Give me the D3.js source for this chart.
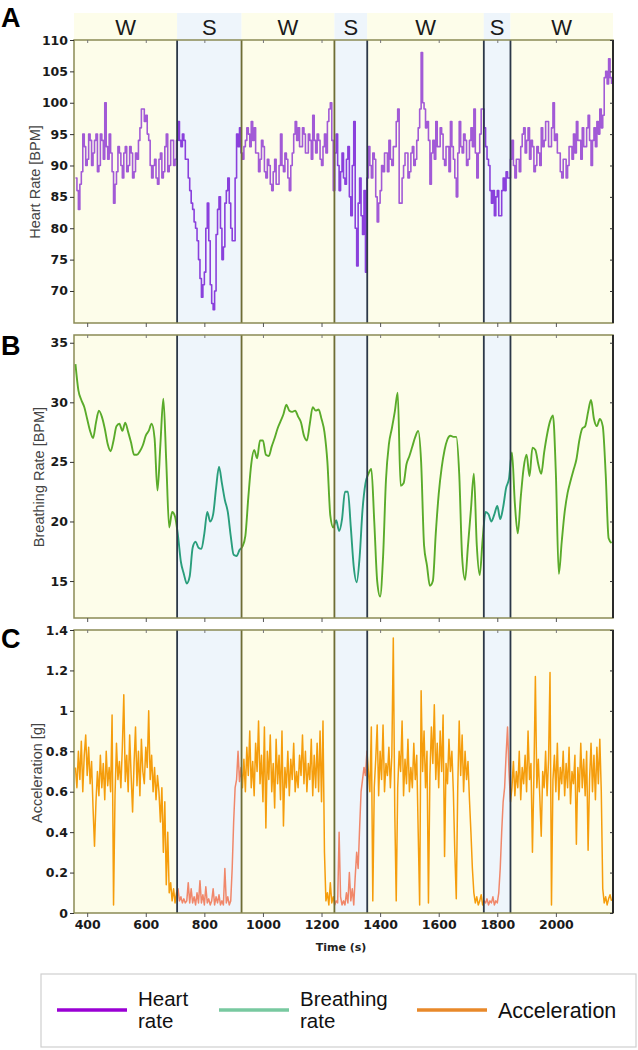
<!DOCTYPE html>
<html><head><meta charset="utf-8">
<script src="https://cdn.jsdelivr.net/npm/d3@7"></script>
<style>body{margin:0;background:#fff}</style>
</head><body>
<svg id="chart" width="638" height="1050"></svg>
<script>
// ---------- data ----------
const xTicks = [400, 600, 800, 1000, 1200, 1400, 1600, 1800, 2000];
const stageLabels = ["W", "S", "W", "S", "W", "S", "W"];
const stageBounds = [355, 707, 927, 1244, 1356, 1754, 1845, 2195];

const hrTicks = [70, 75, 80, 85, 90, 95, 100, 105, 110];
const brTicks = [15, 20, 25, 30, 35];
const accTicks = [0, 0.2, 0.4, 0.6, 0.8, 1, 1.2, 1.4];

const hrStart = 360, hrStep = 5;
const heartRate = [
  88, 86, 83, 87, 89, 95, 93, 90, 91, 95, 94, 90, 92, 94, 95, 89, 90, 95, 94, 91,
  100, 93, 91, 95, 92, 89, 84, 87, 89, 93, 92, 90, 88, 92, 93, 89, 90, 93, 92, 88,
  89, 92, 91, 94, 96, 99, 99, 97, 98, 95, 94, 90, 88, 90, 91, 88, 87, 91, 92, 88,
  89, 93, 95, 89, 90, 94, 94, 90, 91, 94, 97, 94, 93, 95, 94, 91, 91, 88, 86, 84,
  83, 81, 80, 78, 75, 72, 69, 71, 73, 80, 84, 78, 71, 68, 67, 70, 79, 83, 85, 80,
  75, 77, 84, 86, 88, 84, 80, 78, 78, 88, 95, 93, 96, 92, 91, 93, 94, 96, 95, 93,
  97, 94, 96, 92, 92, 89, 91, 94, 93, 89, 88, 91, 90, 87, 86, 89, 91, 87, 87, 90,
  95, 90, 89, 92, 91, 88, 86, 90, 92, 95, 97, 94, 96, 93, 93, 96, 95, 92, 92, 95,
  94, 91, 98, 94, 92, 95, 94, 91, 90, 93, 95, 92, 97, 99, 100, 94, 86, 92, 95, 90,
  86, 89, 92, 88, 87, 91, 93, 85, 82, 90, 97, 80, 74, 84, 88, 82, 79, 86, 73, 88,
  93, 90, 88, 92, 91, 85, 81, 84, 86, 90, 89, 92, 92, 89, 94, 91, 90, 93, 93, 97,
  99, 84, 84, 88, 90, 92, 92, 88, 89, 92, 93, 90, 91, 94, 96, 99, 108, 100, 99, 96,
  97, 94, 87, 92, 94, 91, 97, 93, 93, 96, 95, 91, 90, 93, 93, 89, 97, 93, 91, 88,
  85, 92, 97, 93, 92, 95, 94, 90, 91, 94, 96, 93, 99, 92, 88, 92, 95, 99, 99, 96,
  93, 91, 90, 86, 84, 86, 82, 85, 86, 82, 82, 86, 88, 86, 89, 88, 88, 91, 94, 90,
  88, 91, 91, 89, 93, 95, 96, 92, 94, 96, 91, 94, 93, 89, 90, 93, 92, 90, 96, 93,
  94, 97, 97, 93, 93, 96, 100, 94, 95, 92, 92, 89, 88, 91, 91, 88, 90, 93, 93, 91,
  95, 92, 97, 94, 94, 91, 96, 93, 93, 96, 98, 94, 90, 94, 96, 93, 97, 95, 99, 96,
  98, 104, 105, 103, 107, 104, 103
];

const brStart = 360, brStep = 10;
const breathingRate = [
  33.2, 31.0, 30.2, 29.6, 28.6, 27.6, 27.0, 28.3, 29.3, 28.8,
  27.8, 26.5, 25.9, 26.8, 28.0, 28.2, 27.6, 28.3, 27.5, 26.6,
  25.6, 25.6, 25.9, 26.4, 27.2, 27.6, 28.2, 27.0, 22.6, 26.5,
  30.3, 25.0, 19.5, 20.8, 20.4, 18.8, 16.6, 15.6, 14.8, 15.4,
  17.8, 18.3, 17.8, 17.7, 19.0, 20.8, 20.0, 20.6, 22.8, 24.6,
  23.2, 21.8, 20.8, 18.8, 17.2, 17.1, 17.6, 17.9, 18.8, 22.0,
  24.8, 26.0, 25.3, 26.8, 26.8, 25.6, 25.5, 26.3, 27.0, 27.8,
  28.4, 29.0, 29.8, 29.3, 29.2, 29.3, 28.8, 28.3, 27.2, 26.8,
  28.2, 29.6, 29.3, 29.4, 28.6, 27.5, 25.0, 20.5, 19.5, 20.1,
  19.2, 20.2, 22.5, 22.5, 19.5, 16.2, 14.9, 17.0, 21.0, 23.2,
  24.0, 24.4, 20.0, 15.0, 13.7, 17.0, 23.5, 26.5, 27.8, 29.2,
  30.8, 23.0, 23.2, 24.8, 25.5, 26.3, 27.1, 27.6, 25.0, 18.0,
  16.3, 14.6, 15.0, 19.0, 22.3, 24.5, 26.0, 26.9, 27.2, 27.1,
  27.1, 24.0, 17.0, 15.1, 18.0, 21.0, 24.0, 18.0, 15.5, 18.5,
  20.8, 20.6, 20.0, 20.6, 21.3, 20.2, 21.2, 22.8, 23.6, 25.8,
  21.5, 19.0, 22.0, 24.5, 25.6, 23.8, 26.2, 26.0, 24.8, 24.0,
  25.8, 27.3, 28.4, 28.9, 24.0, 15.6, 18.3, 20.8, 22.4, 23.4,
  24.3, 25.2, 26.8, 27.8, 28.0, 29.2, 30.2, 28.6, 28.0, 28.6,
  28.0, 24.0, 18.6, 18.2
];

const accStart = 360, accStep = 5;
const acceleration = [
  0.72, 0.62, 0.80, 0.66, 0.85, 0.60, 0.78, 0.88, 0.68, 0.82, 0.64, 0.75, 0.52, 0.33, 0.55, 0.70, 0.58, 0.78, 0.62, 0.74,
  0.56, 0.80, 0.63, 0.72, 0.60, 0.98, 0.04, 0.58, 0.84, 0.66, 0.75, 0.62, 0.82, 1.08, 0.65, 0.78, 0.60, 0.88, 0.68, 0.50,
  0.74, 0.92, 0.63, 0.80, 0.58, 0.86, 0.70, 0.64, 0.82, 0.72, 1.00, 0.66, 0.78, 0.60, 0.72, 0.56, 0.68, 0.60, 0.45, 0.62,
  0.30, 0.55, 0.14, 0.40, 0.10, 0.15, 0.06, 0.12, 0.05, 0.10, 0.12, 0.06, 0.08, 0.05, 0.07, 0.05, 0.06, 0.15, 0.05, 0.12,
  0.05, 0.08, 0.04, 0.10, 0.05, 0.16, 0.05, 0.09, 0.04, 0.13, 0.05, 0.07, 0.04, 0.06, 0.12, 0.04, 0.08, 0.05, 0.09, 0.04,
  0.06, 0.04, 0.22, 0.05, 0.08, 0.04, 0.06, 0.22, 0.45, 0.62, 0.66, 0.80, 0.65, 0.72, 0.62, 0.76, 0.60, 0.82, 0.68, 0.90,
  0.62, 0.75, 0.58, 0.84, 0.70, 0.95, 0.64, 0.78, 0.55, 0.92, 0.42, 0.80, 0.66, 0.88, 0.60, 0.74, 0.52, 0.86, 0.64, 0.78,
  0.56, 0.90, 0.43, 0.72, 0.62, 0.80, 0.58, 0.76, 0.66, 0.84, 0.60, 0.70, 0.62, 0.78, 0.68, 0.88, 0.64, 0.80, 0.60, 0.74,
  0.66, 0.86, 0.58, 0.78, 0.62, 0.84, 0.60, 0.90, 0.55, 0.95, 0.30, 0.06, 0.10, 0.04, 0.15, 0.05, 0.08, 0.04, 0.06, 0.05,
  0.40, 0.08, 0.04, 0.06, 0.04, 0.10, 0.05, 0.20, 0.06, 0.12, 0.04, 0.18, 0.30, 0.22, 0.42, 0.60, 0.66, 0.72, 0.68, 0.80,
  0.70, 0.60, 0.92, 0.06, 0.62, 0.76, 0.93, 0.58, 0.80, 0.66, 0.93, 0.60, 0.74, 0.68, 0.82, 0.62, 0.78, 1.36, 0.50, 0.06,
  0.62, 0.80, 0.70, 0.95, 0.58, 0.76, 0.64, 0.86, 0.60, 0.72, 0.62, 0.84, 0.66, 0.78, 0.40, 0.04, 1.10, 0.70, 0.90, 0.62,
  0.80, 0.05, 0.68, 0.92, 0.74, 1.03, 0.66, 0.84, 0.62, 0.90, 0.70, 0.98, 0.28, 0.74, 0.64, 0.86, 0.70, 0.80, 0.60, 0.30,
  0.07, 0.62, 0.95, 0.68, 0.88, 0.60, 0.80, 0.66, 0.75, 0.56, 0.40, 0.22, 0.10, 0.05, 0.08, 0.04, 0.06, 0.09, 0.04, 0.06,
  0.05, 0.07, 0.04, 0.06, 0.05, 0.08, 0.04, 0.06, 0.05, 0.10, 0.22, 0.40, 0.55, 0.62, 0.78, 0.92, 0.70, 0.55, 0.62, 0.75,
  0.58, 0.70, 0.62, 0.80, 0.56, 0.72, 0.64, 0.78, 0.60, 0.90, 0.66, 0.74, 0.30, 0.68, 1.17, 0.62, 0.76, 0.58, 0.38, 0.70,
  0.62, 0.80, 0.58, 0.76, 1.19, 0.04, 0.66, 0.78, 0.60, 0.84, 0.56, 0.72, 0.64, 0.80, 0.58, 0.74, 0.62, 0.82, 0.54, 0.70,
  0.64, 0.78, 0.34, 0.72, 0.60, 0.84, 0.62, 0.76, 0.58, 0.80, 0.31, 0.66, 0.84, 0.60, 0.78, 0.56, 0.82, 0.64, 0.86, 0.60,
  0.12, 0.05, 0.08, 0.04, 0.07, 0.09, 0.06
];

// ---------- drawing ----------
const svg = d3.select("#chart");
const W_BG = "#fdfdea", S_BG = "#eef5fb";
const OLIVE = "#8a8a55", DARK = "#2c3848";
const boundaryColors = [DARK, "#6e6d35", "#6e6d35", DARK, DARK, DARK];

const x = d3.scaleLinear().domain([stageBounds[0], stageBounds[stageBounds.length - 1]]).range([74, 613]);
const stages = stageLabels.map((s, i) => ({ label: s, t0: stageBounds[i], t1: stageBounds[i + 1] }));

// header band
const header = svg.append("g");
header.selectAll("rect").data(stages).join("rect")
  .attr("x", d => x(d.t0)).attr("width", d => x(d.t1) - x(d.t0))
  .attr("y", 13).attr("height", 27)
  .attr("fill", d => d.label === "W" ? W_BG : S_BG);
header.selectAll("text").data(stages).join("text")
  .attr("x", d => (x(d.t0) + x(d.t1)) / 2).attr("y", 35)
  .attr("text-anchor", "middle")
  .style("font-family", "Liberation Sans, Arial, sans-serif")
  .style("font-size", "22px").attr("fill", "#1a1a1a")
  .text(d => d.label);

const panels = [
  { letter: "A", letterY: 27, top: 40, bottom: 323, domain: [64.9, 110], ticks: hrTicks, fmt: d => d,
    values: heartRate, start: hrStart, step: hrStep, curve: d3.curveStepAfter, width: 1.6,
    colors: ["#a25ad6", "#8a40dc"], title: "Heart Rate [BPM]", titleX: 40, titleY: 182 },
  { letter: "B", letterY: 355, top: 335, bottom: 618, domain: [11.9, 35.65], ticks: brTicks, fmt: d => d,
    values: breathingRate, start: brStart, step: brStep, curve: d3.curveMonotoneX, width: 1.9,
    colors: ["#5aab2a", "#2a9e7c"], title: "Breathing Rate [BPM]", titleX: 44, titleY: 477 },
  { letter: "C", letterY: 648, top: 630, bottom: 913, domain: [0, 1.4], ticks: accTicks, fmt: d => String(d),
    values: acceleration, start: accStart, step: accStep, curve: d3.curveLinear, width: 1.5,
    colors: ["#f59d0c", "#f0876a"], title: "Acceleration [g]", titleX: 42, titleY: 773 }
];

panels.forEach((p, pi) => {
  const y = d3.scaleLinear().domain(p.domain).range([p.bottom, p.top]);
  const g = svg.append("g");
  g.selectAll("rect.bg").data(stages).join("rect").attr("class", "bg")
    .attr("x", d => x(d.t0)).attr("width", d => x(d.t1) - x(d.t0))
    .attr("y", p.top).attr("height", p.bottom - p.top)
    .attr("fill", d => d.label === "W" ? W_BG : S_BG);

  ["W", "S"].forEach(lbl => {
    const cp = svg.append("clipPath").attr("id", `clip${pi}${lbl}`);
    cp.selectAll("rect").data(stages.filter(s => s.label === lbl)).join("rect")
      .attr("x", d => x(d.t0)).attr("width", d => x(d.t1) - x(d.t0))
      .attr("y", p.top).attr("height", p.bottom - p.top);
  });

  const pts = p.values.map((v, i) => [p.start + i * p.step, v]);
  const line = d3.line().x(d => x(d[0])).y(d => y(d[1])).curve(p.curve);
  ["W", "S"].forEach((lbl, k) => {
    g.append("path").datum(pts)
      .attr("d", line).attr("fill", "none")
      .attr("stroke", p.colors[k]).attr("stroke-width", p.width)
      .attr("stroke-linejoin", "round")
      .attr("clip-path", `url(#clip${pi}${lbl})`);
  });

  g.selectAll("line.sb").data(stageBounds.slice(1, -1)).join("line").attr("class", "sb")
    .attr("x1", d => x(d)).attr("x2", d => x(d))
    .attr("y1", p.top).attr("y2", p.bottom)
    .attr("stroke", (d, i) => boundaryColors[i]).attr("stroke-width", 1.8);

  g.append("rect").attr("x", 74).attr("y", p.top).attr("width", 539).attr("height", p.bottom - p.top)
    .attr("fill", "none").attr("stroke", OLIVE).attr("stroke-width", 1.5);
  g.append("line").attr("x1", 613).attr("x2", 613).attr("y1", p.top).attr("y2", p.bottom)
    .attr("stroke", "#2a2a2a").attr("stroke-width", 2);

  const yAxis = d3.axisLeft(y).tickValues(p.ticks).tickFormat(p.fmt).tickSize(4).tickPadding(2);
  const ya = g.append("g").attr("transform", "translate(74,0)").call(yAxis);
  ya.select(".domain").remove();
  ya.selectAll("line").attr("stroke", "#333");
  ya.selectAll("text").style("font-family", "DejaVu Sans, Verdana, sans-serif")
    .style("font-weight", "bold").style("font-size", "12.5px").attr("fill", "#1a1a1a");

  const yr = g.append("g").attr("transform", "translate(613,0)")
    .call(d3.axisRight(y).tickValues(p.ticks).tickSize(-3).tickFormat(""));
  yr.select(".domain").remove();
  yr.selectAll("line").attr("stroke", "#333");

  const xAxis = d3.axisBottom(x).tickValues(xTicks).tickSize(4).tickPadding(3)
    .tickFormat(pi === 2 ? d3.format("d") : "");
  const xa = g.append("g").attr("transform", `translate(0,${p.bottom})`).call(xAxis);
  xa.select(".domain").remove();
  xa.selectAll("line").attr("stroke", "#555");
  xa.selectAll("text").style("font-family", "DejaVu Sans, Verdana, sans-serif")
    .style("font-weight", "bold").style("font-size", "12.5px").attr("fill", "#1a1a1a");

  const xt = g.append("g").attr("transform", `translate(0,${p.top})`)
    .call(d3.axisTop(x).tickValues(xTicks).tickSize(-3).tickFormat(""));
  xt.select(".domain").remove();
  xt.selectAll("line").attr("stroke", "#777");

  g.append("text").attr("transform", `translate(${p.titleX},${p.titleY}) rotate(-90)`)
    .attr("text-anchor", "middle")
    .style("font-family", "Liberation Sans, Arial, sans-serif").style("font-size", "14.5px")
    .attr("fill", "#444").text(p.title);

  svg.append("text").attr("x", 1).attr("y", p.letterY)
    .style("font-family", "Liberation Sans, Arial, sans-serif").style("font-weight", "bold")
    .style("font-size", "27px").attr("fill", "#000").text(p.letter);
});

svg.append("text").attr("x", 341).attr("y", 951).attr("text-anchor", "middle")
  .style("font-family", "DejaVu Sans, Verdana, sans-serif").style("font-weight", "bold")
  .style("font-size", "11px").attr("fill", "#222").text("Time (s)");

// legend
const legendItems = [
  { lines: ["Heart", "rate"], color: "#9a00d4", x0: 57 },
  { lines: ["Breathing", "rate"], color: "#78c9a0", x0: 219 },
  { lines: ["Acceleration"], color: "#e8892a", x0: 417 }
];
const lg = svg.append("g");
lg.append("rect").attr("x", 41).attr("y", 974).attr("width", 595).attr("height", 73)
  .attr("fill", "#fff").attr("stroke", "#cfcfcf").attr("stroke-width", 1.2);
legendItems.forEach(it => {
  lg.append("line").attr("x1", it.x0).attr("x2", it.x0 + 70).attr("y1", 1010).attr("y2", 1010)
    .attr("stroke", it.color).attr("stroke-width", 3.5);
  const tx = it.x0 + 81;
  if (it.lines.length === 2) {
    it.lines.forEach((ln, j) => {
      lg.append("text").attr("x", tx).attr("y", 1006 + j * 22)
        .style("font-family", "Liberation Sans, Arial, sans-serif").style("font-size", "20.5px")
        .attr("fill", "#111").text(ln);
    });
  } else {
    lg.append("text").attr("x", tx).attr("y", 1018)
      .style("font-family", "Liberation Sans, Arial, sans-serif").style("font-size", "21.5px")
      .attr("fill", "#111").text(it.lines[0]);
  }
});
</script>
</body></html>
